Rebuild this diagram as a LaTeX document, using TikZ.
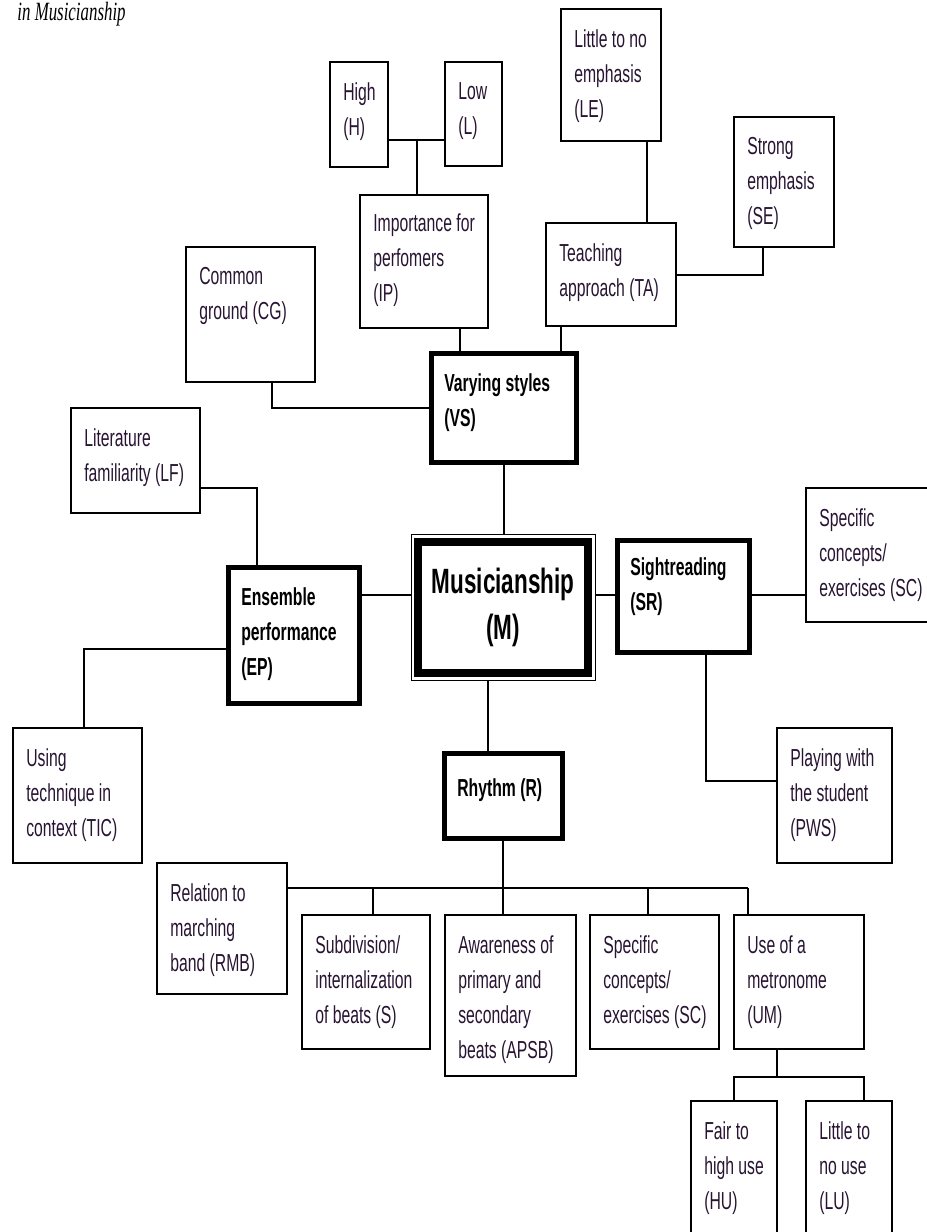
\documentclass[tikz,border=0pt]{standalone}
\usepackage{fontspec}
\setmainfont{Liberation Sans}[FakeStretch=0.64]
\newfontfamily\capfont{Liberation Serif}[FakeStretch=0.64]
\usetikzlibrary{positioning}
\definecolor{inkpurple}{RGB}{40, 20, 50}

\tikzset{
  box/.style={draw, line width=0.04cm, anchor=north west, inner sep=0pt, outer sep=0pt},
  keybox/.style={box, line width=0.1cm},
  sz/.style 2 args={minimum width=#1*0.02cm, minimum height=#2*0.02cm},
  tag/.style={anchor=north west, align=left, inner sep=0pt, xshift=0.26cm, yshift=-0.4cm,
    text=inkpurple, font=\fontsize{14}{20}\selectfont},
  keytag/.style={tag, text=black, font=\fontsize{14}{20}\selectfont\bfseries},
  link/.style={line width=0.04cm},
}

\begin{document}
\begin{tikzpicture}[x=0.02cm, y=-0.02cm]
  \useasboundingbox (0,0) rectangle (927,1232);
  \clip (0,0) rectangle (927,1232);

  % Caption
  \node[anchor=base east, inner sep=0pt, font=\capfont\itshape\fontsize{15}{20}\selectfont] (title) at (126,20) {in Musicianship};

  % Varying styles branch
  \node[box, sz={58}{105}, label={[tag]north west:{High\\(H)}}] (hi) at (330,62) {};
  \node[box, sz={57}{104}, label={[tag]north west:{Low\\(L)}}] (lo) at (445,62) {};
  \node[box, sz={128}{133}, label={[tag, yshift=0.04cm]north west:{Importance for\\perfomers\\(IP)}}] (ip) at (360,195) {};
  \node[box, sz={100}{132}, label={[tag]north west:{Little to no\\emphasis\\(LE)}}] (le) at (561,9) {};
  \node[box, sz={100}{130}, label={[tag]north west:{Strong\\emphasis\\(SE)}}] (se) at (734,117) {};
  \node[box, sz={130}{103}, label={[tag]north west:{Teaching\\approach (TA)}}] (ta) at (546,223) {};
  \node[box, sz={129}{135}, label={[tag]north west:{Common\\ground (CG)}}] (cg) at (186,247) {};
  \node[keybox, sz={145}{109}, label={[keytag]north west:{Varying styles\\(VS)}}] (vs) at (431,353) {};

  % Centre
  \node[box, line width=0.5pt, sz={184}{146}] (mframe) at (411,534) {};
  \node[box, line width=0.16cm, sz={170}{131}, align=center,
        font=\fontsize{20}{26}\selectfont\bfseries] (m) at (418,542) {Musicianship\\(M)};

  % Ensemble performance branch
  \node[box, sz={129}{105}, label={[tag]north west:{Literature\\familiarity (LF)}}] (lf) at (71,408) {};
  \node[keybox, sz={131}{136}, label={[keytag]north west:{Ensemble\\performance\\(EP)}}] (ep) at (228,567) {};
  \node[box, sz={129}{135}, label={[tag]north west:{Using\\technique in\\context (TIC)}}] (tic) at (13,728) {};

  % Sightreading branch
  \node[keybox, sz={132}{112}, label={[keytag, yshift=0.06cm]north west:{Sightreading\\(SR)}}] (sr) at (617,540) {};
  \node[box, sz={130}{134}, label={[tag]north west:{Specific\\concepts/\\exercises (SC)}}] (scs) at (806,488) {};
  \node[box, sz={115}{135}, label={[tag]north west:{Playing with\\the student\\(PWS)}}] (pws) at (777,728) {};

  % Rhythm branch
  \node[keybox, sz={118}{85}, label={[keytag, yshift=-0.1cm]north west:{Rhythm (R)}}] (r) at (444,753) {};
  \node[box, sz={130}{131}, label={[tag]north west:{Relation to\\marching\\band (RMB)}}] (rmb) at (157,863) {};
  \node[box, sz={128}{134}, label={[tag]north west:{Subdivision/\\internalization\\of beats (S)}}] (sub) at (302,915) {};
  \node[box, sz={131}{161}, label={[tag]north west:{Awareness of\\primary and\\secondary\\beats (APSB)}}] (apsb) at (445,915) {};
  \node[box, sz={129}{134}, label={[tag]north west:{Specific\\concepts/\\exercises (SC)}}] (scr) at (590,915) {};
  \node[box, sz={130}{134}, label={[tag]north west:{Use of a\\metronome\\(UM)}}] (um) at (734,915) {};
  \node[box, sz={86}{145}, label={[tag]north west:{Fair to\\high use\\(HU)}}] (hu) at (691,1101) {};
  \node[box, sz={86}{145}, label={[tag]north west:{Little to\\no use\\(LU)}}] (lu) at (806,1101) {};

  % Connectors
  \coordinate (hl) at (417,140);
  \draw[link] (hi.east |- hl) -- (lo.west |- hl);
  \draw[link] (hl) -- (hl |- ip.north);
  \coordinate (lt) at (647,180);
  \draw[link] (lt |- le.south) -- (lt |- ta.north);
  \coordinate (ts) at (763,275);
  \draw[link] (ta.east |- ts) -| (ts |- se.south);
  \coordinate (iv) at (460,340);
  \draw[link] (iv |- ip.south) -- (iv |- vs.north);
  \coordinate (tv) at (561,340);
  \draw[link] (tv |- ta.south) -- (tv |- vs.north);
  \coordinate (cv) at (272,408);
  \draw[link] (cv |- cg.south) |- (vs.west |- cv);
  \draw[link] (vs.south) -- (vs.south |- mframe.north);

  \coordinate (lfep) at (257,488);
  \draw[link] (lf.east |- lfep) -| (lfep |- ep.north);
  \coordinate (eptic) at (84,649);
  \draw[link] (ep.west |- eptic) -| (eptic |- tic.north);

  \coordinate (row) at (0,595);
  \draw[link] (ep.east |- row) -- (mframe.west |- row);
  \draw[link] (mframe.east |- row) -- (sr.west |- row);
  \draw[link] (sr.east |- row) -- (scs.west |- row);
  \coordinate (srp) at (706,781);
  \draw[link] (srp |- sr.south) |- (pws.west |- srp);

  \coordinate (mr) at (488,700);
  \draw[link] (mr |- mframe.south) -- (mr |- r.north);
  \coordinate (bus) at (503,888);
  \coordinate (busend) at (748,888);
  \draw[link] (bus |- r.south) -- (bus);
  \draw[link] (rmb.east |- bus) -- (busend);
  \foreach \n/\x in {sub/373, apsb/503, scr/648, um/748}
    \draw[link] (\x,888) -- (\x,888 |- \n.north);

  \coordinate (mh) at (777,1077);
  \coordinate (hub) at (734,1077);
  \coordinate (lub) at (864,1077);
  \draw[link] (mh |- um.south) -- (mh);
  \draw[link] (hub |- hu.north) -- (hub) -- (lub) -- (lub |- lu.north);
\end{tikzpicture}
\end{document}
